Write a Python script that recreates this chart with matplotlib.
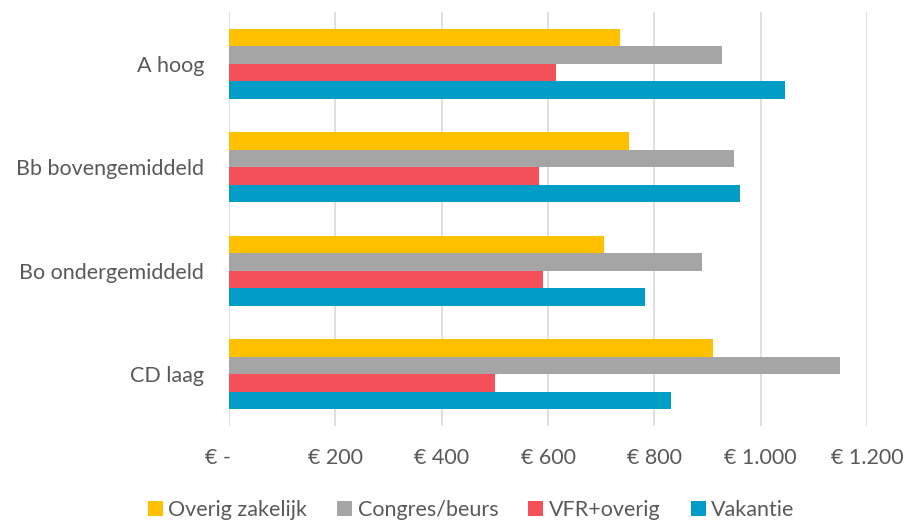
import matplotlib
matplotlib.use("Agg")
import matplotlib.pyplot as plt
import numpy as np
from matplotlib.ticker import FuncFormatter, MultipleLocator

categories = ["A hoog", "Bb bovengemiddeld", "Bo ondergemiddeld", "CD laag"]
series_names = ["Overig zakelijk", "Congres/beurs", "VFR+overig", "Vakantie"]
overig_zakelijk = [735, 752, 706, 911]
congres_beurs = [928, 949, 890, 1149]
vfr_overig = [615, 584, 591, 500]
vakantie = [1046, 961, 782, 832]
colors = ["#FFC000", "#A5A5A5", "#F4505A", "#019DC6"]

plt.rcParams["font.family"] = ["Lato", "DejaVu Sans"]
text_color = "#595959"
fs = 15.5

fig = plt.figure(figsize=(9.05, 5.22), dpi=100)
ax = fig.add_axes([229 / 905, 1 - 426 / 522, 638 / 905, 414 / 522])

values = [overig_zakelijk, congres_beurs, vfr_overig, vakantie]
y = np.arange(len(categories))
bar_h = 0.17
offsets = (np.arange(4) - 1.5) * bar_h
for vals, off, col, name in zip(values, offsets, colors, series_names):
    ax.barh(y + off, vals, height=bar_h, color=col, label=name, zorder=3)

ax.set_ylim(len(categories) - 0.5, -0.5)
ax.set_xlim(0, 1200)
ax.xaxis.set_major_locator(MultipleLocator(200))


def euro(v, pos):
    if v == 0:
        return "€ -    "
    return "€ " + f"{int(v):,}".replace(",", ".")


ax.xaxis.set_major_formatter(FuncFormatter(euro))
ax.set_yticks(y)
ax.set_yticklabels(categories)
ax.grid(axis="x", color="#D9D9D9", linewidth=1.2, zorder=0)
for s in ax.spines.values():
    s.set_visible(False)
ax.tick_params(axis="both", length=0, labelsize=fs, labelcolor=text_color)
ax.tick_params(axis="x", pad=16)
ax.tick_params(axis="y", pad=18)

leg = fig.legend(loc="center", bbox_to_anchor=(471 / 905, 1 - 510 / 522), ncol=4,
                 frameon=False, fontsize=fs, handlelength=0.7, handleheight=0.7,
                 handletextpad=0.25, columnspacing=1.4, borderpad=0)
for t in leg.get_texts():
    t.set_color(text_color)

fig.savefig("out.png", dpi=100)
